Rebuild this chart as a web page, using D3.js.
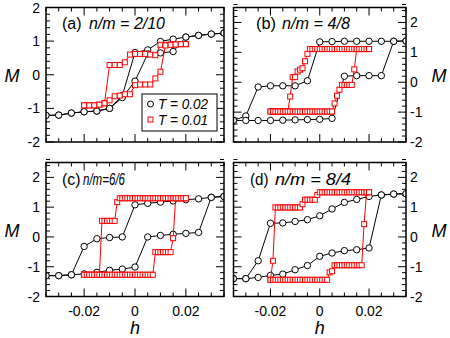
<!DOCTYPE html>
<html>
<head>
<meta charset="utf-8">
<script src="https://cdn.jsdelivr.net/npm/d3@7"></script>
<style>
  body { margin: 0; background: #fff; }
  svg { display: block; }
  svg text { font-family: "Liberation Sans", Arial, "DejaVu Sans", sans-serif; }
</style>
</head>
<body>
<svg id="chart" width="450" height="338"></svg>
<script>
// field values for the T = 0.02 runs (black)
const hCoarse = [-0.035, -0.030, -0.025, -0.020, -0.015, -0.010, -0.005, 0.000,
                 0.005, 0.010, 0.015, 0.020, 0.025, 0.030, 0.035];
// field values for the T = 0.01 run of panel (a)
const hRedA = [-0.020, -0.018, -0.016, -0.014, -0.012, -0.010, -0.008, -0.006, -0.004, -0.002, 0.000,
               0.002, 0.004, 0.006, 0.008, 0.010, 0.012, 0.014, 0.016, 0.018, 0.020];
// field values for the T = 0.01 runs of panels (b)-(d)
const hFine = [-0.020, -0.019, -0.018, -0.017, -0.016, -0.015, -0.014, -0.013, -0.012, -0.011, -0.010,
               -0.009, -0.008, -0.007, -0.006, -0.005, -0.004, -0.003, -0.002, -0.001, 0.000,
               0.001, 0.002, 0.003, 0.004, 0.005, 0.006, 0.007, 0.008, 0.009, 0.010,
               0.011, 0.012, 0.013, 0.014, 0.015, 0.016, 0.017, 0.018, 0.019, 0.020];

// (a) n/m = 2/10  -- "down" = branch swept from +h to -h, "up" = swept from -h to +h
const aBlackDown = [-1.21, -1.20, -1.14, -1.10, -1.08, -1.00, -0.62, 0.66, 0.74, 0.99, 1.06, 1.12, 1.17, 1.21, 1.24];
const aBlackUp   = [-1.21, -1.20, -1.14, -1.10, -1.08, -1.00, -0.68, -0.19, 0.62, 0.65, 0.69, 1.12, 1.17, 1.21, 1.24];
const aRedDown = [-0.91, -0.91, -0.91, -0.89, -0.85, 0.29, 0.29, 0.29, 0.37, 0.60, 0.62,
                  0.62, 0.62, 0.60, 0.58, 0.89, 0.89, 0.90, 0.90, 0.91, 0.91];
const aRedUp   = [-0.91, -0.91, -0.91, -0.89, -0.85, -0.76, -0.64, -0.62, -0.58, -0.58, -0.31,
                  -0.29, -0.29, -0.29, -0.11, 0.09, 0.87, 0.89, 0.90, 0.91, 0.91];

// (b) n/m = 4/8
const bBlackDown = [-1.28, -1.13, -0.16, -0.12, -0.12, -0.12, 0.05, 1.35, 1.36, 1.37, 1.37, 1.37, 1.37, 1.37, 1.38];
const bBlackUp   = [-1.28, -1.28, -1.28, -1.28, -1.27, -1.26, -1.25, -1.24, -1.21, 0.20, 0.22, 0.22, 0.22, 1.37, 1.38];
const bRedDown = [-0.98, -0.98, -0.98, -0.98, -0.98, -0.98, -0.98, -0.98, -0.48, 0.17, 0.17,
                  0.36, 0.42, 0.47, 0.70, 0.95, 1.11, 1.11, 1.11, 1.11, 1.11,
                  1.11, 1.11, 1.11, 1.11, 1.11, 1.11, 1.11, 1.11, 1.11, 1.11,
                  1.11, 1.11, 1.11, 1.11, 1.11, 1.11, 1.11, 1.11, 1.11, 1.11];
const bRedUp   = [-0.98, -0.98, -0.98, -0.98, -0.98, -0.98, -0.98, -0.98, -0.98, -0.98, -0.98,
                  -0.98, -0.98, -0.98, -0.98, -0.98, -0.98, -0.98, -0.98, -0.98, -0.98,
                  -0.98, -0.98, -0.98, -0.98, -0.98, -0.71, -0.45, -0.25, -0.09, -0.09,
                  -0.09, -0.09, -0.09, 0.43, 1.11, 1.11, 1.11, 1.11, 1.11, 1.11];

// (c) n/m = 6/6
const cBlackDown = [-1.30, -1.30, -1.27, -0.32, -0.06, -0.02, 0.00, 1.08, 1.13, 1.17, 1.21, 1.25, 1.28, 1.33, 1.36];
const cBlackUp   = [-1.30, -1.30, -1.27, -1.24, -1.19, -1.12, -1.08, -1.01, 0.00, 0.05, 0.09, 0.12, 0.15, 1.33, 1.36];
const cRedDown = [-1.27, -1.27, -1.27, -1.27, -1.27, -1.27, -1.27, 0.54, 0.54, 0.54, 0.54,
                  0.54, 0.54, 1.17, 1.30, 1.30, 1.30, 1.30, 1.30, 1.30, 1.30,
                  1.30, 1.30, 1.30, 1.30, 1.30, 1.30, 1.30, 1.30, 1.30, 1.30,
                  1.30, 1.30, 1.30, 1.30, 1.30, 1.30, 1.30, 1.30, 1.30, 1.30];
const cRedUp   = [-1.27, -1.27, -1.27, -1.27, -1.27, -1.27, -1.27, -1.27, -1.27, -1.27, -1.27,
                  -1.27, -1.27, -1.27, -1.27, -1.27, -1.27, -1.27, -1.27, -1.27, -1.27,
                  -1.27, -1.27, -1.27, -1.27, -1.27, -1.27, -1.27, -0.51, -0.51, -0.51,
                  -0.51, -0.51, -0.51, -0.51, -0.04, 1.30, 1.30, 1.30, 1.30, 1.30];

// (d) n/m = 8/4
const dBlackDown = [-1.40, -1.40, -0.80, 0.46, 0.47, 0.52, 0.58, 0.71, 0.94, 1.16, 1.26, 1.36, 1.41, 1.44, 1.45];
const dBlackUp   = [-1.40, -1.40, -1.36, -1.29, -1.25, -1.10, -0.96, -0.65, -0.54, -0.46, -0.43, -0.37, 1.41, 1.44, 1.45];
const dRedDown = [-1.44, -0.80, 0.99, 0.99, 0.99, 0.99, 0.99, 0.99, 0.99, 0.99, 0.99,
                  0.99, 0.99, 1.10, 1.25, 1.25, 1.25, 1.25, 1.25, 1.41, 1.50,
                  1.50, 1.50, 1.50, 1.50, 1.50, 1.50, 1.50, 1.50, 1.50, 1.50,
                  1.50, 1.50, 1.50, 1.50, 1.50, 1.50, 1.50, 1.50, 1.50, 1.50];
const dRedUp   = [-1.44, -1.44, -1.44, -1.44, -1.44, -1.44, -1.44, -1.44, -1.44, -1.44, -1.44,
                  -1.44, -1.44, -1.44, -1.44, -1.44, -1.44, -1.44, -1.44, -1.44, -1.44,
                  -1.44, -1.44, -1.44, -1.19, -1.15, -0.95, -0.95, -0.95, -0.95, -0.95,
                  -0.95, -0.95, -0.95, -0.95, -0.95, -0.95, -0.95, 0.43, 1.50, 1.50];

const legendLabels = ["T = 0.02", "T = 0.01"];

// panel layout (title widths forced to the reference since only sans fonts are around)
const panels = [
    { tag: "(a)", text: "n/m = 2/10", x0: 46, x1: 224, y0: 7.5, y1: 142, yMax: 2, side: "left", xLabels: false,
      black: [aBlackDown, aBlackUp], red: [aRedDown, aRedUp], hRed: hRedA, legend: true,
      title: { x: 62, y: 28.5, tagW: 19.5, tx: 89, tw: 76 } },
    { tag: "(b)", text: "n/m = 4/8", x0: 233.5, x1: 406, y0: 7.5, y1: 142, yMax: 2.5, side: "right", xLabels: false,
      black: [bBlackDown, bBlackUp], red: [bRedDown, bRedUp], hRed: hFine,
      title: { x: 256, y: 28.5, tagW: 20, tx: 282, tw: 68 } },
    { tag: "(c)", text: "n/m=6/6", x0: 46, x1: 224, y0: 162.5, y1: 296.5, yMax: 2.5, side: "left", xLabels: true,
      black: [cBlackDown, cBlackUp], red: [cRedDown, cRedUp], hRed: hFine,
      title: { x: 62, y: 185, tagW: 18.5, tx: 83, tw: 42 } },
    { tag: "(d)", text: "n/m = 8/4", x0: 233.5, x1: 406, y0: 162.5, y1: 296.5, yMax: 2.5, side: "right", xLabels: true,
      black: [dBlackDown, dBlackUp], red: [dRedDown, dRedUp], hRed: hFine,
      title: { x: 250, y: 185, tagW: 18.5, tx: 275, tw: 76 } }
];

const svg = d3.select("#chart");
const RED = "#ff0000";

function fmt(v) {
    return Math.abs(v) < 1e-9 ? "0" : String(+v.toFixed(2));
}

function drawPanel(p) {
    const g = svg.append("g");
    const x = d3.scaleLinear().domain([-0.035, 0.035]).range([p.x0, p.x1]);
    const y = d3.scaleLinear().domain([-2, p.yMax]).range([p.y1, p.y0]);

    // clip so markers at the edges are cut by the frame
    const clipId = "clip" + p.tag.replace(/\W/g, "");
    svg.append("clipPath").attr("id", clipId)
        .append("rect").attr("x", p.x0).attr("y", p.y0)
        .attr("width", p.x1 - p.x0).attr("height", p.y1 - p.y0);

    // x ticks: minor every 0.005, major every 0.02, on bottom and top
    const xt = d3.range(-7, 8).map(i => i * 0.005);
    xt.forEach(v => {
        const major = Math.abs(v / 0.02 - Math.round(v / 0.02)) < 1e-6;
        const len = major ? 8 : 4;
        const px = x(v);
        g.append("line").attr("x1", px).attr("x2", px).attr("y1", p.y1).attr("y2", p.y1 - len)
            .attr("stroke", "#000").attr("stroke-width", 1);
        g.append("line").attr("x1", px).attr("x2", px).attr("y1", p.y0).attr("y2", p.y0 + len)
            .attr("stroke", "#000").attr("stroke-width", 1);
        if (major && p.xLabels) {
            g.append("text").attr("x", px).attr("y", p.y1 + 19.5)
                .attr("text-anchor", "middle").attr("font-size", 14).text(fmt(v));
        }
    });

    // y ticks: minor every 0.2, major every 1, on both sides
    const yt = d3.range(-10, Math.round(p.yMax * 5) + 1).map(i => i / 5);
    yt.forEach(v => {
        const major = Math.abs(v - Math.round(v)) < 1e-6;
        const len = major ? 8 : 4;
        const py = y(v);
        g.append("line").attr("x1", p.x0).attr("x2", p.x0 + len).attr("y1", py).attr("y2", py)
            .attr("stroke", "#000").attr("stroke-width", 1);
        g.append("line").attr("x1", p.x1).attr("x2", p.x1 - len).attr("y1", py).attr("y2", py)
            .attr("stroke", "#000").attr("stroke-width", 1);
        if (major) {
            const left = p.side === "left";
            g.append("text")
                .attr("x", left ? p.x0 - 6 : p.x1 + 4)
                .attr("y", py + 5)
                .attr("text-anchor", left ? "end" : "start")
                .attr("font-size", 14).text(fmt(v));
        }
    });

    const line = d3.line().x(d => x(d[0])).y(d => y(d[1]));
    const plot = g.append("g").attr("clip-path", "url(#" + clipId + ")");

    // T = 0.02 : black circles
    p.black.forEach(branch => {
        const pts = hCoarse.map((h, i) => [h, branch[i]]);
        plot.append("path").attr("d", line(pts)).attr("fill", "none")
            .attr("stroke", "#000").attr("stroke-width", 1);
    });
    p.black.forEach(branch => {
        plot.selectAll(null).data(hCoarse.map((h, i) => [h, branch[i]])).enter()
            .append("circle").attr("cx", d => x(d[0])).attr("cy", d => y(d[1])).attr("r", 3.2)
            .attr("fill", "#fff").attr("stroke", "#000").attr("stroke-width", 1);
    });

    // T = 0.01 : red squares
    p.red.forEach(branch => {
        const pts = p.hRed.map((h, i) => [h, branch[i]]);
        plot.append("path").attr("d", line(pts)).attr("fill", "none")
            .attr("stroke", RED).attr("stroke-width", 1);
    });
    p.red.forEach(branch => {
        plot.selectAll(null).data(p.hRed.map((h, i) => [h, branch[i]])).enter()
            .append("rect").attr("x", d => x(d[0]) - 2.5).attr("y", d => y(d[1]) - 2.5)
            .attr("width", 5).attr("height", 5)
            .attr("fill", "#fff").attr("stroke", RED).attr("stroke-width", 1);
    });

    // frame
    g.append("rect").attr("x", p.x0).attr("y", p.y0)
        .attr("width", p.x1 - p.x0).attr("height", p.y1 - p.y0)
        .attr("fill", "none").attr("stroke", "#000").attr("stroke-width", 1.5);

    // panel title
    const tt = p.title;
    g.append("text").attr("x", tt.x).attr("y", tt.y).attr("font-size", 16)
        .attr("textLength", tt.tagW).attr("lengthAdjust", "spacingAndGlyphs").text(p.tag);
    g.append("text").attr("x", tt.tx).attr("y", tt.y).attr("font-size", 16).attr("font-style", "italic")
        .attr("textLength", tt.tw).attr("lengthAdjust", "spacingAndGlyphs").text(p.text);

    // axis titles
    const midY = p.y0 < 100 ? 81.5 : 237;
    g.append("text")
        .attr("x", p.side === "left" ? 12 : 439)
        .attr("y", midY)
        .attr("text-anchor", "middle")
        .attr("font-size", 18).attr("font-style", "italic").text("M");
    if (p.xLabels) {
        g.append("text").attr("x", x(0)).attr("y", p.y1 + 37)
            .attr("text-anchor", "middle")
            .attr("font-size", 18).attr("font-style", "italic").text("h");
    }

    // legend
    if (p.legend) {
        const lg = g.append("g");
        lg.append("rect").attr("x", 142).attr("y", 94).attr("width", 75).attr("height", 37)
            .attr("fill", "#fff").attr("stroke", "#000").attr("stroke-width", 1);
        lg.append("circle").attr("cx", 150.5).attr("cy", 104).attr("r", 3)
            .attr("fill", "#fff").attr("stroke", "#000").attr("stroke-width", 1);
        lg.append("rect").attr("x", 148).attr("y", 117).attr("width", 5).attr("height", 5)
            .attr("fill", "#fff").attr("stroke", RED).attr("stroke-width", 1);
        legendLabels.forEach((s, i) => {
            lg.append("text").attr("x", 158).attr("y", 109 + i * 15.5)
                .attr("font-size", 14).attr("font-style", "italic")
                .attr("textLength", 50).attr("lengthAdjust", "spacingAndGlyphs").text(s);
        });
    }
}

panels.forEach(drawPanel);
</script>
</body>
</html>
